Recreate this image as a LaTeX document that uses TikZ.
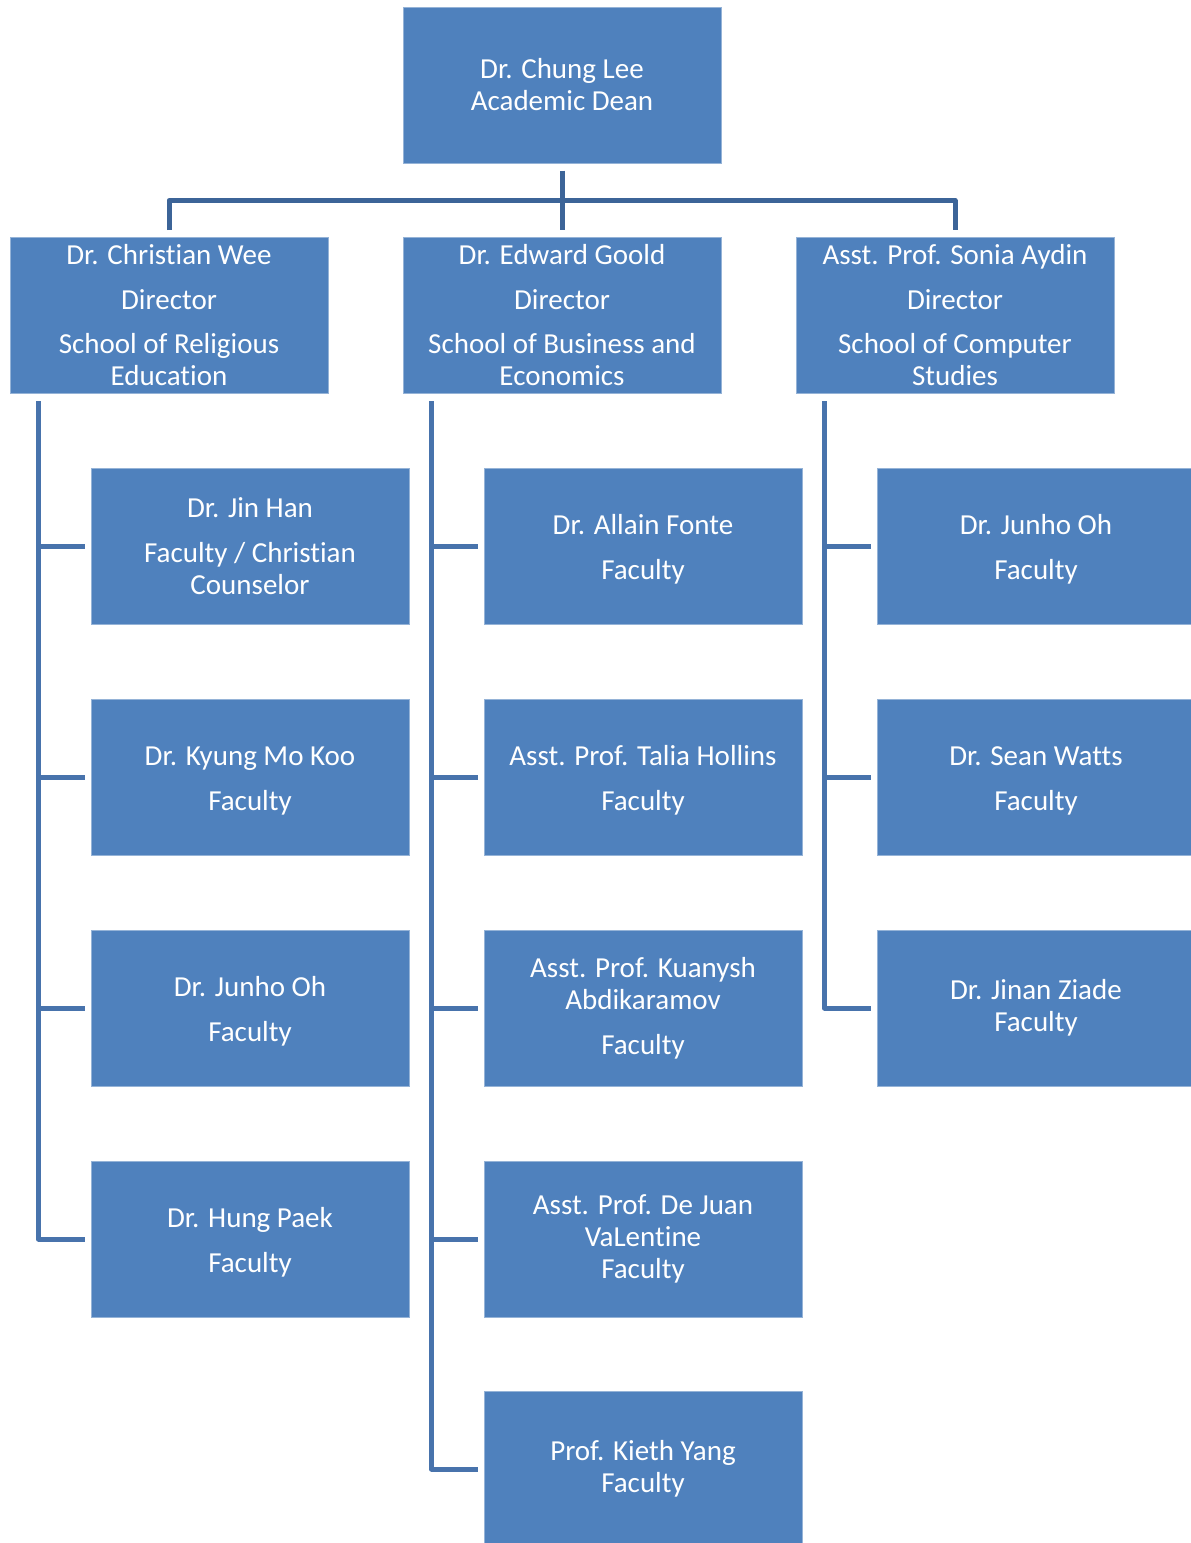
\documentclass[tikz,border=0pt]{standalone}
\usepackage{fontspec}
\setmainfont[Ligatures=NoCommon]{Carlito}
\usetikzlibrary{calc}
\definecolor{boxfill}{RGB}{79,129,189}
\definecolor{boxedge}{RGB}{149,179,215}
\definecolor{topline}{RGB}{60,100,152}
\definecolor{sideline}{RGB}{72,115,172}
\newcommand{\lowstrut}{\rule{0pt}{27pt}}
\tikzset{
  orgbox/.style={rectangle, fill=boxfill, draw=boxedge, line width=1pt,
    minimum width=318pt, minimum height=156pt, inner sep=0pt,
    text=white, align=center, font=\fontsize{29}{32}\selectfont},
  topconn/.style={draw=topline, line width=5pt, line join=round},
  sideconn/.style={draw=sideline, line width=5pt, line join=round},
}
\begin{document}
\begin{tikzpicture}[x=1pt,y=-1pt]
\useasboundingbox (0,0) rectangle (1191,1543);
% top
\node[orgbox] (dean) at (562,85) {Dr. Chung Lee\\Academic Dean};
% directors
\node[orgbox] (d1) at (169,315.5) {Dr. Christian Wee\\[13pt]Director\\[12pt]School of Religious\\Education};
\node[orgbox] (d2) at (562,315.5) {Dr. Edward Goold\\[13pt]Director\\[12pt]School of Business and\\Economics};
\node[orgbox] (d3) at (955,315.5) {Asst. Prof. Sonia Aydin\\[13pt]Director\\[12pt]School of Computer\\Studies};
% left column
\node[orgbox] (f11) at (250,546) {Dr. Jin Han\\[13pt]Faculty / Christian\\Counselor};
\node[orgbox] (f12) at (250,777) {\lowstrut Dr. Kyung Mo Koo\\[13pt]Faculty};
\node[orgbox] (f13) at (250,1008) {\lowstrut Dr. Junho Oh\\[13pt]Faculty};
\node[orgbox] (f14) at (250,1239) {\lowstrut Dr. Hung Paek\\[13pt]Faculty};
% middle column
\node[orgbox] (f21) at (643,546) {\lowstrut Dr. Allain Fonte\\[13pt]Faculty};
\node[orgbox] (f22) at (643,777) {\lowstrut Asst. Prof. Talia Hollins\\[13pt]Faculty};
\node[orgbox] (f23) at (643,1008) {Asst. Prof. Kuanysh\\Abdikaramov\\[13pt]Faculty};
\node[orgbox] (f24) at (643,1239) {Asst. Prof. De Juan\\VaLentine\\Faculty};
\node[orgbox] (f25) at (643,1469) {Prof. Kieth Yang\\Faculty};
% right column
\node[orgbox] (f31) at (1036,546) {\lowstrut Dr. Junho Oh\\[13pt]Faculty};
\node[orgbox] (f32) at (1036,777) {\lowstrut Dr. Sean Watts\\[13pt]Faculty};
\node[orgbox] (f33) at (1036,1008) {Dr. Jinan Ziade\\Faculty};
% top connectors
\coordinate (hb) at ([yshift=-37pt]dean.south);
\draw[topconn] ([yshift=-7pt]dean.south) -- ([yshift=7pt]d2.north);
\draw[topconn] ([yshift=7pt]d1.north) |- (hb) -| ([yshift=7pt]d3.north);
% left column connectors
\coordinate (v1) at ([xshift=29pt,yshift=-7pt]d1.south west);
\draw[sideconn] (v1) |- ([xshift=-6pt]f14.west);
\foreach \n in {f11,f12,f13}{\draw[sideconn] (v1 |- \n.west) -- ([xshift=-6pt]\n.west);}
% middle column connectors
\coordinate (v2) at ([xshift=29pt,yshift=-7pt]d2.south west);
\draw[sideconn] (v2) |- ([xshift=-6pt]f25.west);
\foreach \n in {f21,f22,f23,f24}{\draw[sideconn] (v2 |- \n.west) -- ([xshift=-6pt]\n.west);}
% right column connectors
\coordinate (v3) at ([xshift=29pt,yshift=-7pt]d3.south west);
\draw[sideconn] (v3) |- ([xshift=-6pt]f33.west);
\foreach \n in {f31,f32}{\draw[sideconn] (v3 |- \n.west) -- ([xshift=-6pt]\n.west);}
\end{tikzpicture}
\end{document}
